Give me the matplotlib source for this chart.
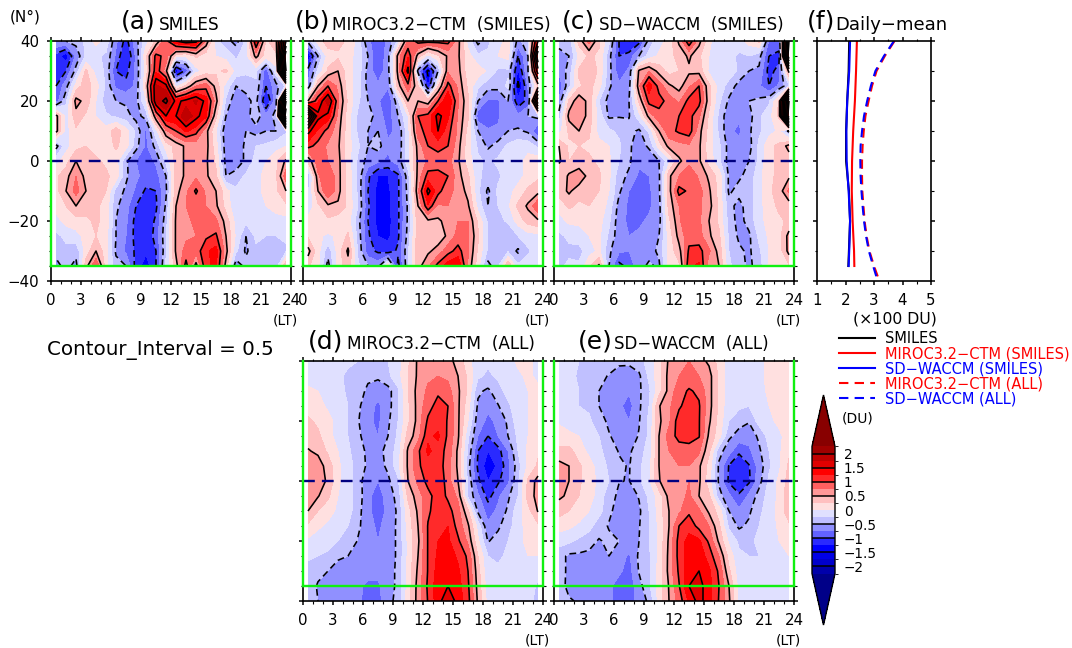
import numpy as np
import matplotlib
matplotlib.use("Agg")
import matplotlib.pyplot as plt
from matplotlib.colors import ListedColormap, BoundaryNorm

plt.rcParams['font.family'] = ['DejaVu Sans']

lt = [0.5, 1.5, 2.5, 3.5, 4.5, 5.5, 6.5, 7.5, 8.5, 9.5, 10.5, 11.5,
      12.5, 13.5, 14.5, 15.5, 16.5, 17.5, 18.5, 19.5, 20.5, 21.5, 22.5, 23.5]
lat_a = [40, 35, 30, 25, 20, 15, 10, 5, 0, -5, -10, -15, -20, -25, -30, -35]
lat_d = lat_a + [-40]

# rows are latitude (40 -> -35 or -40), columns are local time
panel_a = [
 [-.5,-.5,-.4,-.2,.1,-.1,-.7,-1.1,-.6,-.1,.3,.9,1.5,1.7,1.6,.7,-.2,-.4,-.6,-.2,1.3,.2,.4,3],
 [-1.1,-1.4,-.7,-.2,-.2,-.3,-.8,-1.3,-.7,.2,1.1,.9,.1,.0,.3,.1,0,-.1,-.3,-.1,.6,.1,.2,4.5],
 [-1.2,-1,-.4,.3,-.1,-.3,-1,-1.1,-.7,.1,1.2,.6,-1.4,-.9,-.1,.1,.2,.3,-.1,-.2,-.2,-.9,-.1,4],
 [-1,-.6,.1,.4,.1,-.3,-.8,-.9,-.7,.3,1.8,1.6,-.1,.3,.75,.9,.4,-.1,-.5,-.4,-.3,-1,-.6,-.2],
 [-.9,-.3,.6,.4,0,-.4,-.5,-.55,-.6,0,1.8,2.1,1.4,1.6,1.8,1.4,.6,-.3,-.7,-.6,-.4,-1.3,-.6,3.5],
 [.6,-.1,.4,.2,0,-.2,-.3,-.4,-.6,-.4,.7,1.5,1.5,2,1.6,1.3,.3,-.5,-.7,-.6,-.35,-.7,-.4,4.5],
 [.6,-.1,.2,.1,.1,.1,.4,.1,-.3,-.8,-.1,.7,1,1.3,1.1,.6,0,-.7,-.7,-.5,-.6,-.5,-.5,-.3],
 [-.6,-.1,.15,.25,.15,.1,.3,.1,-.4,-.8,-.4,.1,.35,.55,.6,.6,.1,-.65,-.65,-.45,-.25,-.2,-.1,0],
 [-.1,.15,.5,.3,.3,.2,.1,-.45,-.75,-.9,-.7,-.2,.35,.55,.6,.55,.2,-.6,-.65,-.45,-.15,0,.2,.55],
 [.2,.4,.75,.4,.3,.3,.15,-.45,-.7,-.85,-.85,-.5,.35,.55,.7,.55,.3,-.5,-.4,-.2,-.1,.1,.2,.9],
 [.15,.5,.85,.5,.3,.25,-.35,-.55,-.8,-1.05,-1,-.55,.4,.7,1.05,.7,.5,.1,-.2,-.2,-.1,.1,.2,.5],
 [.1,.25,.5,.35,.3,.15,-.45,-.65,-1,-1.15,-1.05,-.45,.5,.75,.8,.75,.55,.15,-.2,-.2,-.1,0,.1,.2],
 [-.1,.1,.15,.2,.3,.15,-.5,-.7,-1.1,-1.2,-.95,-.35,.55,.7,.8,.85,.8,.4,-.1,-.2,-.15,-.1,-.1,-.1],
 [-.3,-.2,-.1,.1,.25,.1,-.5,-.75,-1.1,-1.2,-.9,-.3,.55,.7,.75,.95,1.05,.5,-.05,-.5,-.2,-.25,-.25,-.2],
 [-.4,-.3,-.4,.1,.5,.1,-.55,-.8,-1.05,-1.2,-1,-.3,.55,.85,.85,1.2,1.35,.6,-.2,-.55,-.3,-.3,-.3,-.3],
 [-.6,-.4,-.6,.4,1,.1,-.4,-.5,-1.1,-1.4,-1,-.2,.4,1.1,.4,1.2,1.3,.4,-.7,-.4,-.3,-.3,-.4,.5],
]
panel_b = [
 [-.4,.1,.4,.35,.2,-.1,-.7,-.9,-.7,-.2,.8,1.1,1.1,1.1,1.1,.6,-.1,-.6,-.3,-.1,.1,-.6,-.3,1.5],
 [-1.5,-.5,.1,.2,.1,-.1,-.5,-1,-.6,.6,1.2,.4,-.1,.2,.55,.55,.1,-.2,-.2,0,.1,-1,-.5,3],
 [-.9,-.2,.3,.5,.1,-.1,-.6,-.9,-.6,.6,1.6,-.6,-1.6,-.5,.7,.6,.1,.15,-.05,-.3,-.3,-1.3,-.5,1.8],
 [-.7,.5,1,.7,.1,-.1,-.6,-.7,-.7,.4,.9,.3,-1.3,.2,1.1,.7,.2,-.2,-.4,-.4,-.2,-1.6,-.7,.3],
 [.5,1.2,1.9,.8,.2,-.2,-.5,-.7,-1,-.3,.5,.5,.35,1,1.5,.8,.3,-.5,-.8,-.8,-.5,-1.2,-.9,2.5],
 [4,1.6,1.4,.7,.1,-.3,-.4,-.6,-.9,-.5,0,1,1.1,1.6,1.3,.7,.3,-.9,-1,-.8,-.5,-.7,-.5,-.4],
 [1.6,1.2,.9,.6,.1,-.3,-.5,-.5,-.8,-.7,-.1,.9,1.1,1.5,1.1,.7,.15,-.5,-.7,-.7,-.5,-.45,-.55,-1],
 [1.1,.9,.7,.55,.1,-.2,-.5,-.4,-.7,-.7,-.1,.6,1,1.1,1,.6,.1,-.3,-.55,-.4,-.2,-.1,-.1,-.3],
 [.3,.9,.75,.6,.1,-.3,-.6,-.7,-.8,-.65,-.1,.55,.8,.85,.85,.55,.1,-.2,-.3,-.2,-.1,-.1,.1,.15],
 [-.5,.7,1,.6,.15,-.3,-.95,-1.25,-1.25,-1.05,-.35,.6,1.1,1.1,1,.6,.3,-.2,-.35,-.3,-.15,-.1,.1,.2],
 [-.3,.5,1,.6,.15,-.3,-1,-1.35,-1.3,-1.05,-.4,.7,1.6,1.1,.8,.7,.4,-.2,-.55,-.2,-.1,.1,.3,.4],
 [-.2,.2,.45,.45,.2,-.25,-.95,-1.35,-1.3,-1.05,-.45,.5,1.2,.7,.75,.75,.55,-.1,-.5,-.25,-.05,.3,.55,1],
 [.1,.25,.2,.1,.1,-.4,-1,-1.35,-1.35,-1.05,-.45,.4,.45,.45,.6,.75,.75,.2,-.3,-.35,-.2,.1,.35,.45],
 [.2,.05,-.05,.05,.3,-.35,-.95,-1.25,-1.3,-1.05,-.4,.4,.4,.35,.55,.85,.8,.3,-.3,-.4,-.5,-.25,-.1,-.1],
 [.6,.1,-.4,.1,.55,-.3,-.9,-1.05,-1.15,-.95,-.3,.45,.45,.6,.9,1.1,.8,.2,-.3,-.5,-.3,-.55,-.3,-.1],
 [.3,.05,-.6,.1,.4,-.2,-.5,-.6,.2,-1.1,-.3,.4,.7,1.1,1.4,1.5,.7,.1,-.6,-.3,.5,-.2,-.1,-.2],
]
panel_c = [
 [-.3,-.4,.35,.85,.3,-.2,-1,-1.3,-1.1,-.4,-.1,.1,.55,1.2,.6,.05,-.15,-.2,-.1,.1,.3,-.8,-.8,3],
 [-.7,-.5,.05,.3,.2,-.4,-1,-.9,-.5,-.15,.05,.15,.35,.55,.3,0,-.2,-.15,-.3,-.25,-.4,-1,-1.1,3.5],
 [-.7,-.4,.3,.45,.2,-.4,-.9,-.7,.55,.75,.4,.15,.25,.45,.4,-.05,-.15,-.1,-.3,-.5,-.55,-1.1,-.9,.6],
 [-.95,-.3,.2,.35,.1,-.45,-.7,-.6,.7,1.4,.9,.55,.4,.7,1,.3,-.1,-.35,-.6,-.5,-.7,-1,-.7,-.3],
 [-.7,.3,.7,.4,-.25,-.6,-.6,-.5,.3,1.1,1.1,.9,.7,1.1,1.1,.35,-.2,-.55,-.6,-.5,-.45,-.3,.3,4],
 [-.4,.6,.7,.4,-.1,-.55,-.52,-.52,-.1,.6,.9,1,1,1.1,.8,.2,-.3,-.7,-.7,-.6,-.3,-.1,.3,4.5],
 [-.1,.3,.5,.3,-.1,-.2,-.3,-.4,-.55,-.2,.5,.9,1.05,1.15,.6,.15,-.3,-.7,-.8,-.55,-.3,-.1,.05,-.6],
 [.5,.2,.25,.2,.1,0,-.2,-.45,-.65,-.45,.1,.6,.65,.7,.55,.1,-.2,-.6,-.65,-.6,-.2,.2,.3,.6],
 [.55,.25,.3,.3,.2,.05,-.25,-.45,-.7,-.7,-.5,-.1,.45,.65,.55,.15,-.2,-.6,-.65,-.5,-.2,.2,.3,.35],
 [.25,.55,.7,.4,.3,.05,-.4,-.55,-.8,-.75,-.55,.45,.75,1,.7,.45,.15,-.55,-.55,-.4,-.1,.2,.3,.45],
 [.35,.55,.35,.3,.25,0,-.45,-.75,-.85,-.8,-.55,.4,1.1,.95,.85,.55,.15,-.55,-.4,-.35,-.1,.2,.35,.8],
 [.1,.3,.2,.25,.2,-.1,-.6,-.8,-.85,-.8,-.6,.35,.75,.9,.8,.6,.2,-.4,-.6,-.35,-.1,.15,.3,.35],
 [-.1,.05,.05,.1,.1,-.2,-.65,-.8,-.8,-.7,-.6,.2,.7,1,.8,.5,.2,-.35,-.6,-.4,-.1,.1,.2,.3],
 [-.3,-.2,-.1,0,.05,-.3,-.65,-.75,-.7,-.7,-.5,.1,.6,.9,.85,.55,.3,-.3,-.55,-.55,-.2,.05,.15,.6],
 [-.4,-.3,-.35,-.1,.05,-.45,-.7,-.75,-.7,-.6,-.45,.1,.4,1.05,1.1,.8,.4,-.25,-.45,-.55,-.3,0,.1,.6],
 [-.3,-.2,-.2,.2,.55,-.5,-1.1,-.9,-.6,-.45,-.55,.1,.2,1.2,1.3,.6,.5,-.2,-.4,-.55,-.4,.05,.1,.2],
]
panel_d = [
 [-.15,-.15,-.15,-.15,-.2,-.25,-.3,-.3,-.25,-.1,.2,.55,.7,.7,.6,.4,.1,-.2,-.2,-.2,-.1,.05,.1,-.1],
 [-.1,-.1,-.15,-.2,-.3,-.3,-.45,-.45,-.3,-.1,.25,.55,.7,.75,.7,.5,.2,-.2,-.3,-.2,-.15,-.05,.05,-.05],
 [.05,0,-.1,-.15,-.3,-.4,-.55,-.65,-.6,-.3,.25,.6,.8,.95,.85,.55,.2,-.45,-.55,-.35,-.15,-.05,0,.05],
 [.15,.1,-.05,-.15,-.25,-.45,-.65,-.8,-.6,-.3,.2,.6,.9,1.1,1,.55,.1,-.55,-.7,-.52,-.3,-.1,0,.05],
 [.3,.2,.1,-.1,-.25,-.48,-.7,-.8,-.55,-.25,.2,.6,1.05,1.15,.98,.55,0,-.65,-.8,-.7,-.45,-.1,0,.1],
 [.4,.3,.1,-.1,-.25,-.45,-.62,-.75,-.5,-.2,.35,.65,1.2,1.3,.95,.55,-.2,-.75,-1,-.75,-.5,-.2,0,.15],
 [.52,.45,.2,0,-.2,-.4,-.55,-.6,-.4,-.15,.55,.95,1.3,1.15,.9,.45,-.3,-1,-1.25,-1.1,-.75,-.25,.05,.2],
 [.7,.62,.4,.05,-.15,-.35,-.55,-.6,-.45,-.1,.55,.95,1.15,1.15,.85,.45,-.4,-1.05,-1.4,-1.2,-.85,-.35,.05,.3],
 [.75,.65,.45,.05,-.15,-.4,-.65,-.75,-.55,-.3,.5,.8,1.1,1.25,.85,.5,-.3,-.95,-1.25,-1.05,-.8,-.3,.3,.6],
 [.65,.52,.3,0,-.15,-.35,-.7,-.85,-.65,-.4,.3,.65,.9,1.15,.95,.7,-.3,-.7,-1.1,-.8,-.55,-.25,.35,.6],
 [.5,.25,.1,-.05,-.15,-.4,-.7,-.85,-.7,-.45,.15,.55,.95,1.15,1.1,.85,.3,-.55,-.85,-.7,-.45,-.1,.15,.52],
 [.2,.05,-.05,-.15,-.25,-.45,-.65,-.8,-.65,-.45,.1,.5,1.02,1.2,1.25,.9,.55,-.1,-.7,-.55,-.35,-.1,.1,.2],
 [-.05,-.15,-.15,-.25,-.3,-.52,-.65,-.75,-.65,-.45,.05,.45,1.02,1.25,1.3,1.05,.7,.05,-.52,-.4,-.25,-.1,.1,.1],
 [-.2,-.25,-.3,-.48,-.5,-.55,-.6,-.75,-.65,-.45,.05,.5,1.02,1.3,1.4,1.2,.95,.25,-.25,-.3,-.2,-.1,0,0],
 [-.35,-.45,-.5,-.55,-.55,-.6,-.65,-.65,-.6,-.45,.1,.55,1.02,1.35,1.45,1.3,1,.35,-.2,-.2,-.15,-.1,-.05,-.15],
 [-.4,-.52,-.55,-.55,-.6,-.7,-.8,-.8,-.6,-.45,.1,.6,1.05,1.4,1.5,1.35,1.05,.4,-.15,-.15,-.15,-.1,-.1,-.3],
 [-.4,-.5,-.5,-.55,-.6,-.7,-.85,-.85,-.55,-.45,.15,.6,1.02,1.4,1.7,1.4,1.1,.45,-.1,-.1,-.1,-.1,-.15,-.35],
]
panel_e = [
 [-.1,-.15,-.25,-.3,-.35,-.35,-.45,-.45,-.35,-.15,.15,.55,.7,.75,.6,.45,.15,-.15,-.25,-.15,-.05,.05,.05,.05],
 [-.1,-.15,-.3,-.35,-.42,-.52,-.6,-.62,-.55,-.2,.15,.6,.75,.85,.75,.6,.2,-.15,-.25,-.2,-.05,.05,.05,.05],
 [-.1,-.15,-.25,-.3,-.5,-.55,-.65,-.72,-.55,-.3,.15,.6,.9,1.03,.95,.6,.2,-.15,-.2,-.2,-.1,.05,.05,.05],
 [-.15,-.2,-.25,-.3,-.5,-.55,-.7,-.85,-.55,-.25,.48,.7,.95,1.15,1.03,.6,.2,-.2,-.2,-.25,-.1,0,.05,.05],
 [-.05,-.1,-.15,-.2,-.4,-.55,-.65,-.75,-.52,-.2,.45,.7,1.15,1.25,1.02,.55,.15,-.25,-.4,-.48,-.15,-.05,.05,.05],
 [.15,.05,0,-.1,-.25,-.48,-.6,-.65,-.48,-.2,.5,.85,1.1,1.1,1.02,.45,.1,-.45,-.6,-.65,-.45,-.15,-.05,.1],
 [.3,.35,.1,-.05,-.2,-.35,-.52,-.55,-.35,-.15,.5,.75,.85,.9,.8,.3,-.4,-.65,-.95,-.8,-.55,-.25,-.05,.2],
 [.6,.5,.3,.1,-.1,-.3,-.45,-.52,-.3,-.1,.5,.7,.75,.75,.55,.15,-.55,-1.02,-1.2,-1.02,-.65,-.3,-.05,.3],
 [.65,.5,.3,.1,-.05,-.25,-.49,-.51,-.3,-.05,.48,.7,.75,.75,.55,.1,-.55,-1.05,-1.25,-1.05,-.6,-.2,.05,.35],
 [.55,.45,.25,.1,-.1,-.4,-.55,-.65,-.48,-.2,.1,.6,.65,.8,.5,.3,-.4,-.7,-.95,-.7,-.4,-.15,.05,.45],
 [.35,.25,.15,0,-.15,-.45,-.6,-.75,-.55,-.25,.1,.5,.7,.95,.8,.45,.15,-.5,-.7,-.55,-.3,-.15,.1,.4],
 [.1,.05,-.05,-.15,-.4,-.52,-.55,-.6,-.52,-.25,.05,.5,1,1.15,.92,.75,.3,-.3,-.55,-.45,-.25,-.15,.05,.2],
 [-.15,-.2,-.3,-.42,-.52,-.45,-.5,-.55,-.5,-.25,.05,.55,1.1,1.35,1.3,.95,.45,-.05,-.3,-.3,-.2,-.15,0,.05],
 [-.4,-.55,-.55,-.55,-.55,-.5,-.6,-.8,-.45,-.3,.05,.58,1.1,1.4,1.4,1.15,.75,.15,-.2,-.25,-.25,-.2,-.1,0],
 [-.4,-.55,-.6,-.55,-.6,-.65,-.7,-.85,-.48,-.3,.1,.58,1.05,1.45,1.5,1.3,.95,.3,-.15,-.15,-.15,-.15,-.15,-.1],
 [-.42,-.55,-.6,-.55,-.6,-.7,-.85,-.9,-.6,-.3,.1,.52,.98,1.5,1.6,1.35,1,.5,-.1,-.1,-.1,-.15,-.15,-.15],
 [-.35,-.48,-.52,-.5,-.55,-.7,-.85,-.85,-.65,-.45,.1,.5,.85,1.3,1.6,1.35,.98,.55,-.1,-.1,-.1,-.15,-.2,-.2],
]

lat_f = [40, 30, 20, 10, 0, -10, -20, -30, -35]
smiles_mean = [2.13, 2.11, 2.06, 2.02, 2.02, 2.12, 2.16, 2.12, 2.1]
miroc_mean = [2.40, 2.37, 2.33, 2.27, 2.23, 2.22, 2.25, 2.30, 2.31]
waccm_mean = [2.16, 2.13, 2.06, 2.03, 2.04, 2.11, 2.16, 2.13, 2.11]
miroc_all = [3.72, 3.38, 3.09, 2.93, 2.81, 2.70, 2.64, 2.60, 2.58, 2.58, 2.59, 2.63, 2.67, 2.74, 2.84, 3.0, 3.19]
waccm_all = [3.70, 3.35, 3.05, 2.89, 2.76, 2.65, 2.58, 2.53, 2.52, 2.53, 2.56, 2.60, 2.65, 2.72, 2.82, 2.97, 3.13]

levels = np.arange(-2.25, 2.5, 0.25)
line_levels = [-4, -3.5, -3, -2.5, -2, -1.5, -1, -.5, .5, 1, 1.5, 2, 2.5, 3, 3.5, 4]
colors = ['#0000aa', '#0000cc', '#0000e6', '#0000ff', '#2a2aff', '#6262ff', '#9090ff', '#c0c0ff', '#e0e0ff',
          '#ffe0e0', '#ffc0c0', '#ff9898', '#ff6060', '#ff2a2a', '#ff0000', '#e00000', '#c00000', '#a00000']
cmap = ListedColormap(colors)
cmap.set_under('#000088')
cmap.set_over('#880000')
norm = BoundaryNorm(levels, len(colors))

W, H = 1072, 648
navy = '#000080'
green = '#10f010'
fs = 10.8


def px_axes(x0, y0, x1, y1):
    return fig.add_axes([x0 / W, 1 - y1 / H, (x1 - x0) / W, (y1 - y0) / H])


def txt(x, y, s, size=fs, ha='left', va='baseline', color='k'):
    fig.text(x / W, 1 - y / H, s, fontsize=size, ha=ha, va=va, color=color)


def contour_panel(box, data, lats, left_labels=False):
    ax = px_axes(*box)
    z = np.array(data)
    cf = ax.contourf(lt, lats, z, levels=levels, cmap=cmap, norm=norm, extend='both')
    ax.contour(lt, lats, z, levels=line_levels, colors='k', linewidths=1.15,
               negative_linestyles=(0, (4.2, 2.6)))
    ax.axhline(0, color=navy, lw=1.7, ls=(0, (5, 3)), zorder=5)
    ax.set_xlim(0, 24)
    ax.set_ylim(-40, 40)
    ax.set_xticks(np.arange(0, 25, 3))
    ax.set_xticks(np.arange(0, 25, 1), minor=True)
    ax.set_yticks(np.arange(-40, 41, 20))
    ax.set_yticks(np.arange(-40, 41, 5), minor=True)
    ax.tick_params(which='major', length=3, width=1.1, labelsize=fs, pad=5.5, top=True, right=True,
                   labelleft=left_labels)
    ax.tick_params(which='minor', length=1.8, width=0.8, top=True, right=True)
    for s in ax.spines.values():
        s.set_linewidth(1.2)
    # green box around the area that SMILES covers
    ax.plot([0, 0], [-35, 40], color=green, lw=1.7, clip_on=False, zorder=6)
    ax.plot([24, 24], [-35, 40], color=green, lw=1.7, clip_on=False, zorder=6)
    ax.plot([0, 24], [-35, -35], color=green, lw=1.7, clip_on=False, zorder=6)
    return cf


fig = plt.figure(figsize=(W / 100, H / 100), dpi=100)

cf = contour_panel((51, 41, 291, 281), panel_a, lat_a, left_labels=True)
contour_panel((303, 41, 543, 281), panel_b, lat_a)
contour_panel((554, 41, 794, 281), panel_c, lat_a)
contour_panel((303, 361, 543, 601), panel_d, lat_d)
contour_panel((554, 361, 794, 601), panel_e, lat_d)

# daily mean profiles
axf = px_axes(817, 41, 931, 281)
axf.plot(smiles_mean, lat_f, color='k', lw=1.5, label='SMILES')
axf.plot(miroc_mean, lat_f, color='#ff0000', lw=1.5, label='MIROC3.2\u2212CTM (SMILES)')
axf.plot(waccm_mean, lat_f, color='#0000ff', lw=1.5, label='SD\u2212WACCM (SMILES)')
axf.plot(miroc_all, lat_d, color='#ff0000', lw=1.5, ls=(0, (4.5, 3)), label='MIROC3.2\u2212CTM (ALL)')
axf.plot(waccm_all, lat_d, color='#0000ff', lw=1.5, ls=(0, (4.5, 3)), label='SD\u2212WACCM (ALL)')
axf.set_xlim(1, 5)
axf.set_ylim(-40, 40)
axf.set_xticks([1, 2, 3, 4, 5])
axf.set_xticks(np.arange(1, 5.1, 0.5), minor=True)
axf.set_yticks(np.arange(-40, 41, 20))
axf.set_yticks(np.arange(-40, 41, 10), minor=True)
axf.tick_params(which='major', length=3, width=1.1, labelsize=fs, pad=5.5, top=True, right=True, labelleft=False)
axf.tick_params(which='minor', length=1.8, width=0.8, top=True, right=True)
for s in axf.spines.values():
    s.set_linewidth(1.2)

handles, labels = axf.get_legend_handles_labels()
fig.legend(handles, labels, loc='upper left', bbox_to_anchor=(839 / W, 1 - 331 / H), frameon=False,
           fontsize=10.5, handlelength=2.47, handletextpad=0.68, labelspacing=0.0,
           labelcolor=['k', '#ff0000', '#0000ff', '#ff0000', '#0000ff'], borderpad=0, borderaxespad=0)

# colour bar, the axes holds the two triangles as well
cax = px_axes(812, 395, 835, 625)
cb = fig.colorbar(cf, cax=cax, extend='both', extendfrac=51 / 126, spacing='proportional')
cb.set_ticks([-2, -1.5, -1, -.5, 0, .5, 1, 1.5, 2])
cb.set_ticklabels(['\u22122', '\u22121.5', '\u22121', '\u22120.5', '0', '0.5', '1', '1.5', '2'])
cax.tick_params(length=0, labelsize=9.8, pad=6.5)
cb.ax.hlines([-2, -1.5, -1, -.5, .5, 1, 1.5, 2], 0, 1, color='k', lw=1.1)
cb.outline.set_linewidth(1)

# titles
tsize = 18
ssize = 12.2
txt(121, 29, '(a)', tsize)
txt(159, 30, 'SMILES', ssize)
txt(295, 29, '(b)', tsize)
txt(332, 30, 'MIROC3.2\u2212CTM  (SMILES)', ssize)
txt(562, 29, '(c)', tsize)
txt(599, 30, 'SD\u2212WACCM  (SMILES)', 12)
txt(807, 29, '(f)', tsize)
txt(835, 30, 'Daily\u2212mean', 13)
txt(308, 349, '(d)', tsize)
txt(347, 349, 'MIROC3.2\u2212CTM  (ALL)', ssize)
txt(578, 349, '(e)', tsize)
txt(614, 349, 'SD\u2212WACCM  (ALL)', 12)

txt(47, 355, 'Contour_Interval = 0.5', 14.3)
txt(10, 21, '(N\u00b0)', 11)
for x in (285, 537, 788):
    txt(x, 325, '(LT)', 10, ha='center')
for x in (537, 788):
    txt(x, 645, '(LT)', 10, ha='center')
txt(895, 324, '(\u00d7100 DU)', 11.3, ha='center')
txt(858, 423, '(DU)', 10, ha='center')

fig.savefig('out.png', dpi=100)
